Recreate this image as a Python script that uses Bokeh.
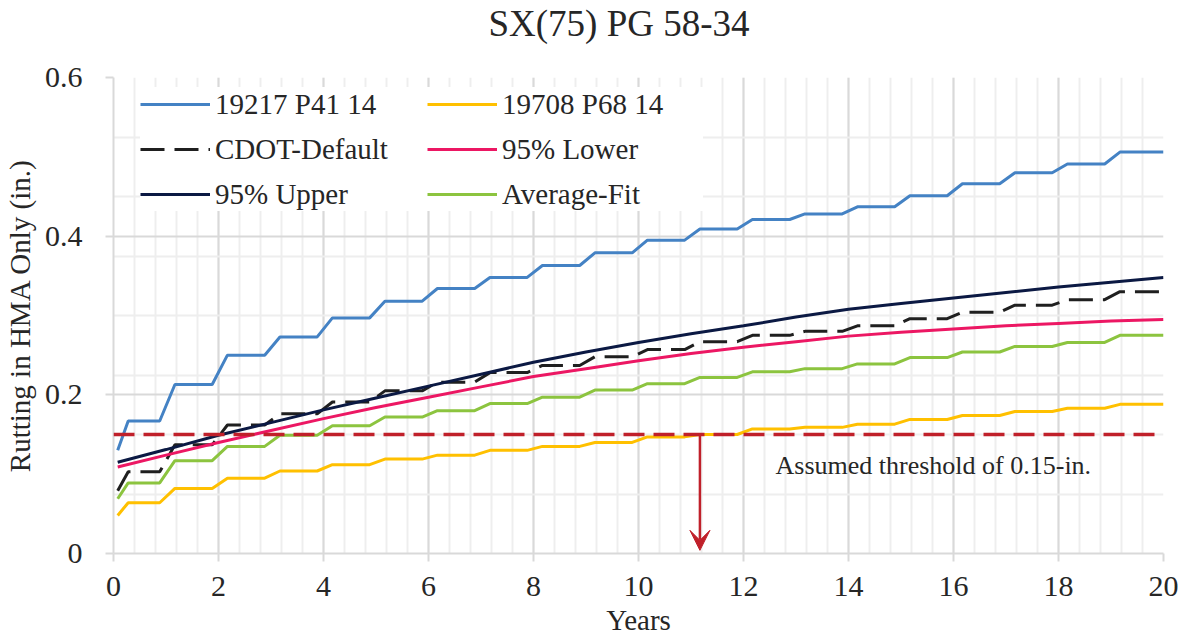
from bokeh.plotting import figure
from bokeh.models import Range1d, FixedTicker, Legend, LegendItem, Span, Arrow, VeeHead, Label, Title
from bokeh.embed import file_html
from bokeh.resources import INLINE

FONT = "Liberation Serif"
TXT = "#262626"

# ---------------- data ----------------
# x positions (years) of the step series: first point, start of first plateau,
# then (end of plateau, start of next plateau) pairs, last point
years = [0.08, 0.28, 0.88, 1.17, 1.88, 2.17, 2.88, 3.17, 3.88, 4.17, 4.88, 5.17,
         5.88, 6.17, 6.88, 7.17, 7.88, 8.17, 8.88, 9.17, 9.88, 10.17, 10.88, 11.17,
         11.88, 12.17, 12.88, 13.17, 13.88, 14.17, 14.88, 15.17, 15.88, 16.17,
         16.88, 17.17, 17.88, 18.17, 18.88, 19.17, 20.0]

# first value and yearly plateau values (year 0 .. 19)
p41_start = 0.130
p41 = [0.167, 0.213, 0.250, 0.273, 0.297, 0.318, 0.334, 0.348, 0.363, 0.379,
       0.395, 0.409, 0.421, 0.428, 0.437, 0.451, 0.466, 0.480, 0.491, 0.506]

p68_start = 0.048
p68 = [0.064, 0.082, 0.095, 0.104, 0.112, 0.119, 0.124, 0.130, 0.135, 0.140,
       0.147, 0.150, 0.157, 0.159, 0.163, 0.169, 0.174, 0.179, 0.183, 0.188]

cdot_start = 0.079
cdot = [0.103, 0.137, 0.162, 0.176, 0.191, 0.205, 0.216, 0.228, 0.237, 0.248,
        0.257, 0.267, 0.275, 0.280, 0.287, 0.296, 0.304, 0.313, 0.320, 0.330]

avg_start = 0.069
avg = [0.089, 0.117, 0.135, 0.149, 0.161, 0.172, 0.180, 0.189, 0.197, 0.206,
       0.214, 0.222, 0.229, 0.233, 0.239, 0.247, 0.254, 0.261, 0.266, 0.275]

# smooth confidence bounds
bound_years = [0.08, 1, 2, 3, 4, 5, 6, 7, 8, 9, 10, 11, 12, 13, 14, 15, 16, 17, 18, 19, 20]
upper95 = [0.115, 0.131, 0.149, 0.165, 0.181, 0.196, 0.211, 0.226, 0.241, 0.254, 0.266,
           0.277, 0.287, 0.298, 0.308, 0.315, 0.322, 0.329, 0.336, 0.342, 0.348]
lower95 = [0.109, 0.124, 0.140, 0.155, 0.170, 0.184, 0.197, 0.210, 0.223, 0.233, 0.243,
           0.252, 0.260, 0.267, 0.274, 0.279, 0.283, 0.287, 0.290, 0.293, 0.295]

threshold = 0.15
threshold_year = 11.17
arrow_tip = 0.004

x_ticks = [0, 2, 4, 6, 8, 10, 12, 14, 16, 18, 20]
x_minor = [i * 0.4 for i in range(51)]
y_ticks = [0, 0.2, 0.4, 0.6]
y_tick_labels = ["0", "0.2", "0.4", "0.6"]
y_minor = [i * 0.075 for i in range(9)]

title_text = "SX(75) PG 58-34"
x_title = "Years"
y_title = "Rutting in HMA Only (in.)"
note_text = "Assumed threshold of 0.15-in."
note_x, note_y = 12.61, 0.1115


def steps(start, plateaus):
    out = [start]
    for v in plateaus:
        out += [v, v]
    return out


# ---------------- figure ----------------
p = figure(width=1187, height=638, x_range=Range1d(0, 20), y_range=Range1d(0, 0.6),
           output_backend="svg", toolbar_location=None,
           min_border_left=107, min_border_right=24, min_border_top=77, min_border_bottom=85)
p.outline_line_color = None
p.background_fill_color = "white"
p.border_fill_color = "white"

# spacer between the frame and the title (keeps the title near the top edge)
p.add_layout(Title(text=" ", text_font_size="2px", standoff=28), "above")
p.add_layout(Title(text=title_text, align="left", offset=375, vertical_align="top",
                   standoff=0, text_font=FONT, text_font_size="37px",
                   text_font_style="normal", text_color=TXT), "above")

xt = FixedTicker(ticks=x_ticks, minor_ticks=x_minor)
yt = FixedTicker(ticks=y_ticks, minor_ticks=y_minor)
p.xaxis.ticker = xt
p.yaxis.ticker = yt
p.xgrid.ticker = xt
p.ygrid.ticker = yt
p.yaxis.major_label_overrides = dict(zip(y_ticks, y_tick_labels))

for ax in (p.xaxis[0], p.yaxis[0]):
    ax.axis_line_color = "#D9D9D9"
    ax.axis_line_width = 2
    ax.major_tick_line_color = "#D9D9D9"
    ax.major_tick_line_width = 2
    ax.major_tick_out = 8
    ax.major_tick_in = 0
    ax.minor_tick_out = 0
    ax.minor_tick_in = 0
    ax.minor_tick_line_color = None
    ax.major_label_text_font = FONT
    ax.major_label_text_font_size = "30px"
    ax.major_label_text_color = TXT
    ax.axis_label_text_font = FONT
    ax.axis_label_text_font_size = "29px"
    ax.axis_label_text_font_style = "normal"
    ax.axis_label_text_color = TXT

p.xaxis.major_label_standoff = 15
p.yaxis.major_label_standoff = 23
p.yaxis.axis_label = y_title
p.yaxis.axis_label_standoff = 6
p.xaxis.axis_label = x_title
p.xaxis.axis_label_standoff = 5

for g in (p.xgrid[0], p.ygrid[0]):
    g.grid_line_color = "#D9D9D9"
    g.grid_line_width = 2
    g.minor_grid_line_color = "#EEEEEE"
    g.minor_grid_line_width = 2

BLUE = "#4482C4"
YELLOW = "#FFC000"
BLACK = "#1F1F1F"
PINK = "#EC1763"
NAVY = "#0B1943"
GREEN = "#8CC43F"
RED = "#C0202A"

r_p41 = p.line(years, steps(p41_start, p41), line_color=BLUE, line_width=3)
r_p68 = p.line(years, steps(p68_start, p68), line_color=YELLOW, line_width=3)
r_cdot = p.line(years, steps(cdot_start, cdot), line_color=BLACK, line_width=3, line_dash="24 10")
r_low = p.line(bound_years, lower95, line_color=PINK, line_width=3)
r_up = p.line(bound_years, upper95, line_color=NAVY, line_width=3)
r_avg = p.line(years, steps(avg_start, avg), line_color=GREEN, line_width=3)

p.add_layout(Span(location=threshold, dimension="width", line_color=RED,
                  line_width=3.5, line_dash="21 9"))
p.add_layout(Arrow(end=VeeHead(size=20, fill_color=RED, line_color=RED),
                   x_start=threshold_year, y_start=threshold,
                   x_end=threshold_year, y_end=arrow_tip,
                   line_color=RED, line_width=2.5))

p.add_layout(Label(x=note_x, y=note_y, text=note_text, text_font=FONT,
                   text_font_size="26px", text_color=TXT, text_baseline="alphabetic"))

legend = Legend(items=[
    LegendItem(label="19217 P41 14", renderers=[r_p41]),
    LegendItem(label="CDOT-Default", renderers=[r_cdot]),
    LegendItem(label="95% Upper", renderers=[r_up]),
    LegendItem(label="19708 P68 14", renderers=[r_p68]),
    LegendItem(label="95% Lower", renderers=[r_low]),
    LegendItem(label="Average-Fit", renderers=[r_avg]),
], ncols=2, location=(27, 342))
legend.label_text_font = FONT
legend.label_text_font_size = "29px"
legend.label_text_color = TXT
legend.glyph_width = 70
legend.glyph_height = 34
legend.label_height = 34
legend.label_width = 201
legend.label_standoff = 5
legend.spacing = 11
legend.padding = 5
legend.margin = 0
legend.border_line_color = None
legend.background_fill_color = "white"
legend.background_fill_alpha = 1.0
p.add_layout(legend)

open("out.html", "w").write(file_html(p, INLINE))
